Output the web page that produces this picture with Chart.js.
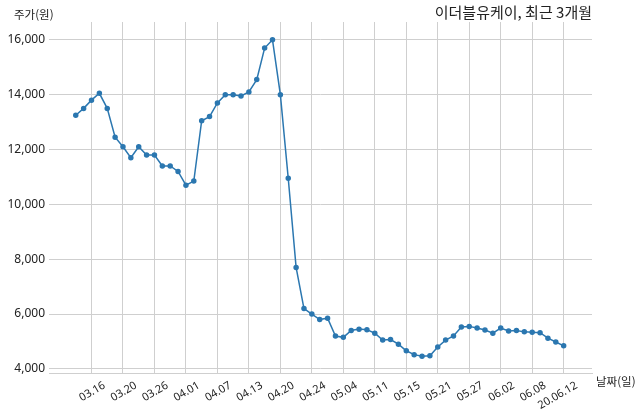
<!DOCTYPE html>
<html lang="ko">
<head>
  <meta charset="UTF-8" />
  <title>이더블유케이, 최근 3개월</title>
  <style>
    html, body { margin: 0; padding: 0; background: #fff; }
    #wrap { width: 640px; height: 414px; }
  </style>
  <script src="https://cdn.jsdelivr.net/npm/chart.js"></script>
</head>
<body>
  <div id="wrap"><canvas id="priceChart"></canvas></div>

  <script>
    // trading days, 2020.03.12 - 2020.06.12
    const dates = [
      '03.12','03.13','03.16','03.17','03.18','03.19','03.20','03.23','03.24','03.25',
      '03.26','03.27','03.30','03.31','04.01','04.02','04.03','04.06','04.07','04.08',
      '04.09','04.10','04.13','04.14','04.16','04.17','04.20','04.21','04.22','04.23',
      '04.24','04.27','04.28','04.29','05.04','05.06','05.07','05.08','05.11','05.12',
      '05.13','05.14','05.15','05.18','05.19','05.20','05.21','05.22','05.25','05.26',
      '05.27','05.28','05.29','06.01','06.02','06.03','06.04','06.05','06.08','06.09',
      '06.10','06.11','06.12'
    ];
    const prices = [
      13250, 13500, 13800, 14050, 13500, 12450, 12100, 11700, 12100, 11800,
      11800, 11400, 11400, 11200, 10700, 10850, 13050, 13200, 13700, 14000,
      14000, 13950, 14100, 14550, 15700, 16000, 14000, 10950, 7700, 6200,
      6000, 5800, 5850, 5200, 5150, 5400, 5450, 5430, 5300, 5050,
      5070, 4900, 4660, 4520, 4460, 4480, 4800, 5050, 5200, 5530,
      5550, 5490, 5420, 5300, 5490, 5380, 5400, 5350, 5340, 5320,
      5120, 4980, 4840
    ];
    const tickIdx = [2, 6, 10, 14, 18, 22, 26, 30, 34, 38, 42, 46, 50, 54, 58, 62];
    const tickLabels = ['03.16','03.20','03.26','04.01','04.07','04.13','04.20','04.24',
      '05.04','05.11','05.15','05.21','05.27','06.02','06.08','20.06.12'];
    const yTicks = [4000, 6000, 8000, 10000, 12000, 14000, 16000];

    const titleText = '이더블유케이, 최근 3개월';
    const yName = '주가(원)';
    const xName = '날짜(일)';

    const FONT = '"Noto Sans CJK KR", "Noto Sans", sans-serif';
    const NUM_FONT = '"Noto Sans", "Noto Sans CJK KR", sans-serif';
    const gridColor = '#cfcfcf';

    // axis names and title around the plot
    const textPlugin = {
      id: 'axisText',
      afterDraw(chart) {
        const ctx = chart.ctx;
        const area = chart.chartArea;
        ctx.save();
        ctx.fillStyle = '#222';
        ctx.textBaseline = 'middle';
        ctx.font = '11.5px ' + FONT;
        ctx.textAlign = 'left';
        ctx.fillText(yName, 14, 15);
        ctx.fillText(xName, area.right + 4, area.bottom + 9);
        ctx.font = '15px ' + FONT;
        ctx.textAlign = 'right';
        ctx.fillText(titleText, area.right, 12);
        ctx.restore();
      }
    };

    new Chart(document.getElementById('priceChart'), {
      type: 'line',
      data: {
        datasets: [{
          data: prices.map((p, i) => ({ x: i, y: p })),
          borderColor: '#2b77b0',
          backgroundColor: '#2b77b0',
          borderWidth: 1.5,
          pointRadius: 2,
          pointHoverRadius: 2,
          tension: 0
        }]
      },
      options: {
        responsive: true,
        maintainAspectRatio: false,
        animation: false,
        layout: { padding: { left: 0, right: 48, top: 22, bottom: 0 } },
        plugins: {
          legend: { display: false },
          tooltip: { enabled: false }
        },
        scales: {
          x: {
            type: 'linear',
            min: -3.4,
            max: 65.6,
            afterBuildTicks: scale => { scale.ticks = tickIdx.map(v => ({ value: v })); },
            afterFit: scale => { scale.height = 41; },
            grid: { color: gridColor, drawTicks: false },
            border: { display: true, color: gridColor },
            ticks: {
              autoSkip: false,
              minRotation: 30,
              maxRotation: 30,
              padding: 6,
              labelOffset: 13,
              color: '#222',
              font: { family: NUM_FONT, size: 11 },
              callback: v => tickLabels[tickIdx.indexOf(v)]
            }
          },
          y: {
            min: 3850,
            max: 16650,
            afterBuildTicks: scale => { scale.ticks = yTicks.map(v => ({ value: v })); },
            afterFit: scale => { scale.width = 49; },
            grid: { color: gridColor, drawTicks: false },
            border: { display: false },
            ticks: {
              padding: 4,
              color: '#222',
              font: { family: NUM_FONT, size: 12 },
              callback: v => v.toLocaleString('en-US')
            }
          }
        }
      },
      plugins: [textPlugin]
    });
  </script>
</body>
</html>
